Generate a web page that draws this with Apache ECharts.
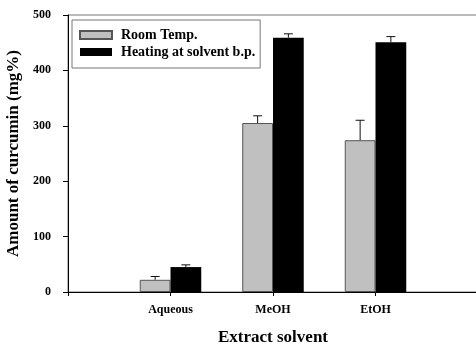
<!DOCTYPE html>
<html>
<head>
<meta charset="utf-8">
<script src="https://cdn.jsdelivr.net/npm/echarts@6/dist/echarts.min.js"></script>
<style>
  html, body { margin: 0; padding: 0; background: #fff; }
</style>
</head>
<body>
<div id="chart" style="width: 476px; height: 346px;"></div>
<script>
const solvents = ["Aqueous", "MeOH", "EtOH"];
const roomTemp = [22, 305, 274];
const roomTempErr = [6, 13, 36];
const heating = [45, 459, 451];
const heatingErr = [4, 7, 10];
const yTicks = [0, 100, 200, 300, 400, 500];

// empty slots either side so the groups sit at 1..3 of a 0..4 axis
const cats = [""].concat(solvents, [""]);
const pad = arr => ["-"].concat(arr, ["-"]);

const FONT = "Liberation Serif";

function errData(vals, errs) {
  return vals.map((v, i) => [i + 1, v, errs[i]]);
}

function errRender(side) {
  return function (params, api) {
    const base = api.coord([api.value(0), api.value(1)]);
    const top = api.coord([api.value(0), api.value(1) + api.value(2)]);
    const band = api.size([1, 0])[0];
    const x = base[0] + side * band * 0.15;
    const cap = 4.5;
    const style = { stroke: "#111", lineWidth: 1 };
    return {
      type: "group",
      children: [
        { type: "line", shape: { x1: x, y1: base[1], x2: x, y2: top[1] }, style: style },
        { type: "line", shape: { x1: x - cap, y1: top[1], x2: x + cap, y2: top[1] }, style: style }
      ]
    };
  };
}

const chart = echarts.init(document.getElementById("chart"));
let option = {
  animation: false,
  textStyle: { fontFamily: FONT },
  grid: {
    left: 68,
    top: 15,
    width: 410,
    height: 277,
    outerBoundsMode: "none",
    containLabel: false,
    show: true,
    borderColor: "#777",
    borderWidth: 1
  },
  legend: {
    data: ["Room Temp.", "Heating at solvent b.p."],
    orient: "vertical",
    left: 72,
    top: 20,
    padding: [8, 5, 9, 7],
    itemGap: 3,
    itemWidth: 32,
    itemHeight: 8,
    icon: "rect",
    borderColor: "#777",
    borderWidth: 1,
    textStyle: {
      fontFamily: FONT,
      fontWeight: "bold",
      fontSize: 14,
      color: "#000",
      padding: [0, 0, 0, 4]
    }
  },
  xAxis: {
    type: "category",
    data: cats,
    boundaryGap: false,
    name: "Extract solvent",
    nameLocation: "middle",
    nameGap: 37,
    nameTextStyle: { fontFamily: FONT, fontWeight: "bold", fontSize: 17, color: "#000" },
    axisLine: { lineStyle: { color: "#000", width: 1 } },
    axisTick: { length: 4, lineStyle: { color: "#000" } },
    axisLabel: { fontFamily: FONT, fontWeight: "bold", fontSize: 12, color: "#000", margin: 12 },
    splitLine: { show: false }
  },
  yAxis: {
    type: "value",
    min: 0,
    max: 500,
    interval: 100,
    name: "Amount of curcumin (mg%)",
    nameLocation: "middle",
    nameGap: 40,
    nameTextStyle: { fontFamily: FONT, fontWeight: "bold", fontSize: 17, color: "#000" },
    axisLine: { show: true, lineStyle: { color: "#000", width: 1 } },
    axisTick: { show: true, length: 5, lineStyle: { color: "#000" } },
    axisLabel: {
      fontFamily: FONT, fontWeight: "bold", fontSize: 12, color: "#000", margin: 17,
      formatter: v => (yTicks.indexOf(v) >= 0 ? String(v) : "")
    },
    splitLine: { show: false }
  },
  series: [
    {
      name: "Room Temp.",
      type: "bar",
      data: pad(roomTemp),
      barWidth: "30%",
      barGap: "0%",
      itemStyle: { color: "#c0c0c0", borderColor: "#555", borderWidth: 1 }
    },
    {
      name: "Heating at solvent b.p.",
      type: "bar",
      data: pad(heating),
      barWidth: "30%",
      barGap: "0%",
      itemStyle: { color: "#000" }
    },
    {
      type: "custom",
      renderItem: errRender(-1),
      data: errData(roomTemp, roomTempErr),
      z: 5
    },
    {
      type: "custom",
      renderItem: errRender(1),
      data: errData(heating, heatingErr),
      z: 5
    }
  ]
};
option && chart.setOption(option);
</script>
</body>
</html>
